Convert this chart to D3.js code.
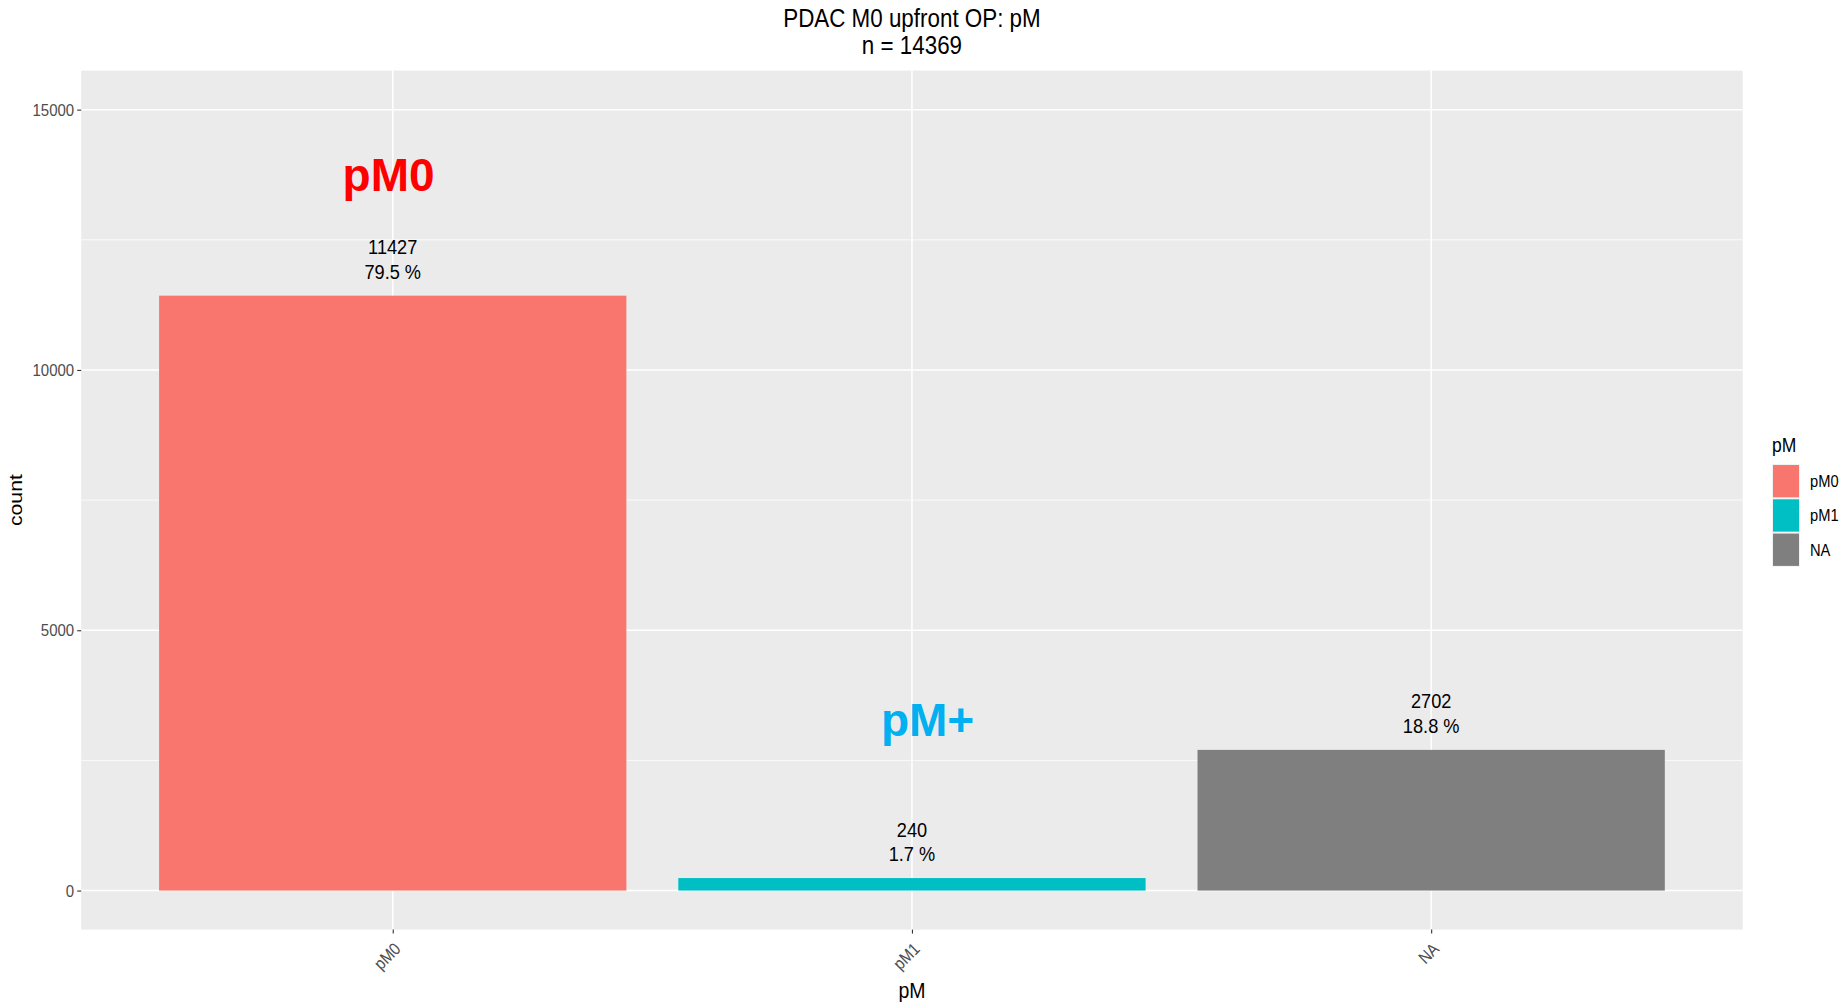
<!DOCTYPE html>
<html>
<head>
<meta charset="utf-8">
<script src="https://cdn.jsdelivr.net/npm/d3@7"></script>
<style>
  html, body { margin: 0; padding: 0; background: #ffffff; }
  svg { display: block; }
  text { font-family: "Liberation Sans", Arial, sans-serif; }
</style>
</head>
<body>
<svg id="chart" width="1845" height="1002"></svg>
<script>
// ---- data ----
const categories = ["pM0", "pM1", "NA"];
const counts = [11427, 240, 2702];
const percents = ["79.5 %", "1.7 %", "18.8 %"];
const barColors = ["#F8766D", "#00BFC4", "#7F7F7F"];
const yTicks = [0, 5000, 10000, 15000];
const yMinorTicks = [2500, 7500, 12500];
const titleLines = ["PDAC M0 upfront OP: pM", "n = 14369"];
const annoLabels = ["pM0", "pM+"];
const annoX = [0.992, 2.03];
const annoY = [13750, 3270];
const annoColors = ["#FF0000", "#00B0F0"];
const legendTitle = "pM";
const xTitle = "pM";
const yTitle = "count";

// ---- layout ----
const W = 1845, H = 1002;
const panel = { left: 81.2, right: 1742.7, top: 70.6, bottom: 929.6 };
const SY = 1.14; // vertical text stretch seen in the reference

const svg = d3.select("#chart");
const x = d3.scaleLinear().domain([0.4, 3.6]).range([panel.left, panel.right]);
const y = d3.scaleLinear().domain([-750, 15750]).range([panel.bottom, panel.top]);
const barW = 0.9;

function stretched(sel, px, py, extra) {
  sel.attr("transform", `translate(${px},${py}) ${extra || ""} scale(1,${SY})`);
}

// panel background
svg.append("rect")
  .attr("x", panel.left).attr("y", panel.top)
  .attr("width", panel.right - panel.left).attr("height", panel.bottom - panel.top)
  .attr("fill", "#EBEBEB");

// minor grid
svg.append("g").selectAll("line").data(yMinorTicks).join("line")
  .attr("x1", panel.left).attr("x2", panel.right)
  .attr("y1", d => y(d)).attr("y2", d => y(d))
  .attr("stroke", "#ffffff").attr("stroke-width", 0.8);
// major grid
svg.append("g").selectAll("line").data(yTicks).join("line")
  .attr("x1", panel.left).attr("x2", panel.right)
  .attr("y1", d => y(d)).attr("y2", d => y(d))
  .attr("stroke", "#ffffff").attr("stroke-width", 1.5);
svg.append("g").selectAll("line").data(categories).join("line")
  .attr("x1", (d, i) => x(i + 1)).attr("x2", (d, i) => x(i + 1))
  .attr("y1", panel.top).attr("y2", panel.bottom)
  .attr("stroke", "#ffffff").attr("stroke-width", 1.5);

// bars
svg.append("g").selectAll("rect").data(counts).join("rect")
  .attr("x", (d, i) => x(i + 1 - barW / 2))
  .attr("width", (d, i) => x(i + 1 + barW / 2) - x(i + 1 - barW / 2))
  .attr("y", d => y(d))
  .attr("height", d => y(0) - y(d))
  .attr("fill", (d, i) => barColors[i]);

// bar labels
const lab = svg.append("g");
counts.forEach((c, i) => {
  const cx = x(i + 1), top = y(c);
  lab.append("text").text(String(c))
    .attr("text-anchor", "middle").attr("font-size", 18.2).attr("fill", "#000")
    .call(stretched, cx, top - 41.5);
  lab.append("text").text(percents[i])
    .attr("text-anchor", "middle").attr("font-size", 18.2).attr("fill", "#000")
    .call(stretched, cx, top - 16.7);
});

// annotations
annoLabels.forEach((t, i) => {
  svg.append("text").text(t)
    .attr("text-anchor", "middle").attr("dominant-baseline", "central")
    .attr("font-family", "Lato, 'Open Sans', sans-serif")
    .attr("font-weight", "bold").attr("font-size", 46)
    .attr("fill", annoColors[i])
    .attr("transform", `translate(${x(annoX[i])},${y(annoY[i])})`);
});

// y axis
const yAxis = svg.append("g")
  .attr("transform", `translate(${panel.left},0)`)
  .call(d3.axisLeft(y).tickValues(yTicks).tickFormat(d => String(d))
    .tickSize(4).tickPadding(3).tickSizeOuter(0));
yAxis.select(".domain").remove();
yAxis.selectAll(".tick line").attr("stroke", "#333333").attr("stroke-width", 1.1);
yAxis.selectAll(".tick text")
  .attr("font-family", "'Liberation Sans', Arial, sans-serif")
  .attr("font-size", 15).attr("fill", "#4D4D4D")
  .attr("transform", `scale(1,${SY})`);

// x axis
const xAxis = svg.append("g")
  .attr("transform", `translate(0,${panel.bottom})`)
  .call(d3.axisBottom(x).tickValues([1, 2, 3]).tickFormat(d => categories[d - 1]).tickSize(4).tickSizeOuter(0));
xAxis.select(".domain").remove();
xAxis.selectAll(".tick line").attr("stroke", "#333333").attr("stroke-width", 1.1);
xAxis.selectAll(".tick text")
  .attr("font-family", "'Liberation Sans', Arial, sans-serif")
  .attr("font-size", 15).attr("fill", "#4D4D4D")
  .attr("text-anchor", "end")
  .attr("x", 0).attr("y", 0).attr("dy", "0.7em")
  .attr("transform", `translate(0,12) rotate(-45) scale(1,${SY})`);

// titles
titleLines.forEach((t, i) => {
  svg.append("text").text(t)
    .attr("text-anchor", "middle").attr("font-size", 22.4).attr("fill", "#000")
    .call(stretched, (panel.left + panel.right) / 2, i === 0 ? 26.7 : 54);
});
svg.append("text").text(xTitle)
  .attr("text-anchor", "middle").attr("font-size", 19.5).attr("fill", "#000")
  .call(stretched, (panel.left + panel.right) / 2, 998);
svg.append("text").text(yTitle)
  .attr("text-anchor", "middle").attr("font-size", 18.6).attr("fill", "#000")
  .attr("transform", `translate(22,${(panel.top + panel.bottom) / 2}) rotate(-90) scale(${SY},1)`);

// legend
const lg = svg.append("g");
lg.append("text").text(legendTitle)
  .attr("font-size", 17.5).attr("fill", "#000")
  .call(stretched, 1772, 451.5);
const keyTop = 464, keyH = 34.3, keyW = 28;
categories.forEach((c, i) => {
  const ky = keyTop + i * keyH;
  lg.append("rect").attr("x", 1772).attr("y", ky).attr("width", keyW).attr("height", keyH)
    .attr("fill", "#F2F2F2");
  lg.append("rect").attr("x", 1773).attr("y", ky + 1).attr("width", keyW - 2).attr("height", keyH - 2)
    .attr("fill", barColors[i]);
  lg.append("text").text(c)
    .attr("font-size", 14.7).attr("fill", "#000").attr("dominant-baseline", "central")
    .call(stretched, 1810, ky + keyH / 2);
});
</script>
</body>
</html>
